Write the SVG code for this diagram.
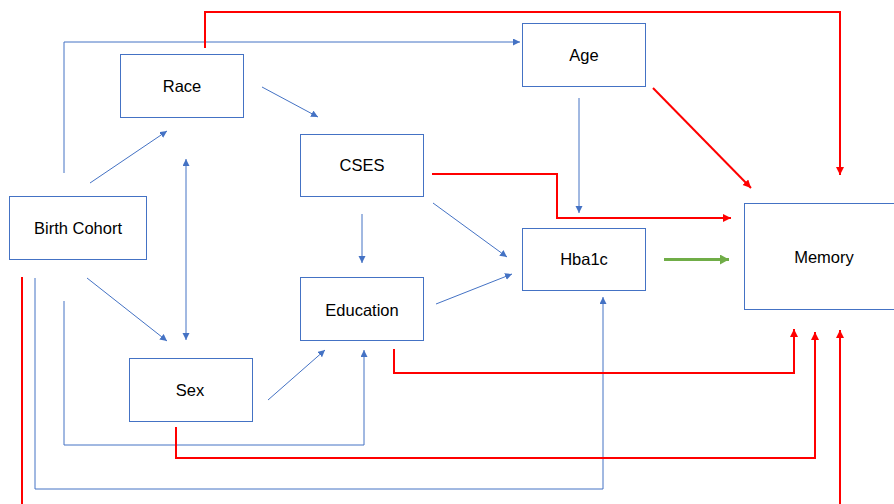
<svg xmlns="http://www.w3.org/2000/svg" width="894" height="504" viewBox="0 0 894 504">
<style>
.box{fill:#fff;stroke:#4472C4;stroke-width:1}
.lbl{font-family:"Liberation Sans",Arial,sans-serif;font-size:16.5px;fill:#000;text-anchor:middle;dominant-baseline:central}
.b{fill:none;stroke:#4472C4;stroke-width:1}
.r{fill:none;stroke:#FF0000;stroke-width:2}
.g{fill:none;stroke:#70AD47;stroke-width:3}
</style>
<defs>
<marker id="ab" markerUnits="userSpaceOnUse" markerWidth="8" markerHeight="8" refX="7" refY="3.5" orient="auto-start-reverse"><path d="M0,0 L7,3.5 L0,7 Z" fill="#4472C4"/></marker>
<marker id="ar" markerUnits="userSpaceOnUse" markerWidth="9" markerHeight="9" refX="8" refY="4" orient="auto"><path d="M0,0 L8,4 L0,8 Z" fill="#FF0000"/></marker>
<marker id="ag" markerUnits="userSpaceOnUse" markerWidth="10" markerHeight="10" refX="9" refY="5" orient="auto"><path d="M0,0 L9,5 L0,10 Z" fill="#70AD47"/></marker>
</defs>
<rect width="894" height="504" fill="#fff"/>
<g id="connectors">
<path class="b" d="M64,173 V42 H520" marker-end="url(#ab)"/>
<path class="b" d="M90,183 L167,131" marker-end="url(#ab)"/>
<path class="b" d="M186,159 V340" marker-start="url(#ab)" marker-end="url(#ab)"/>
<path class="b" d="M262,87 L318,117" marker-end="url(#ab)"/>
<path class="b" d="M362,214 V263" marker-end="url(#ab)"/>
<path class="b" d="M433,203 L507,257" marker-end="url(#ab)"/>
<path class="b" d="M436,304 L512,274" marker-end="url(#ab)"/>
<path class="b" d="M87,278 L167,341" marker-end="url(#ab)"/>
<path class="b" d="M268,400 L325,350" marker-end="url(#ab)"/>
<path class="b" d="M64,301 V445 H364 V350" marker-end="url(#ab)"/>
<path class="b" d="M35,278 V489 H603 V297" marker-end="url(#ab)"/>
<path class="b" d="M579,98 V213" marker-end="url(#ab)"/>
<path class="g" d="M664,259.5 H729" marker-end="url(#ag)"/>
<path class="r" d="M205,48 V12 H840 V175" marker-end="url(#ar)"/>
<path class="r" d="M653,88 L751,188" marker-end="url(#ar)"/>
<path class="r" d="M432,174 H557 V218 H731" marker-end="url(#ar)"/>
<path class="r" d="M394,349 V373 H794 V329" marker-end="url(#ar)"/>
<path class="r" d="M176,427 V458 H815 V332" marker-end="url(#ar)"/>
<path class="r" d="M22,277 V512 H840 V330" marker-end="url(#ar)"/>
</g>
<g id="race"><rect class="box" x="120.5" y="54.5" width="123" height="63"/><text class="lbl" x="182" y="86">Race</text></g>
<g id="cses"><rect class="box" x="300.5" y="134.5" width="123" height="62"/><text class="lbl" x="362" y="165">CSES</text></g>
<g id="birth-cohort"><rect class="box" x="9.5" y="196.5" width="137" height="63"/><text class="lbl" x="78" y="228">Birth Cohort</text></g>
<g id="age"><rect class="box" x="522.5" y="23.5" width="123" height="63"/><text class="lbl" x="584" y="55">Age</text></g>
<g id="hba1c"><rect class="box" x="522.5" y="228.5" width="123" height="62"/><text class="lbl" x="584" y="259">Hba1c</text></g>
<g id="memory"><rect class="box" x="744.5" y="203.5" width="160" height="106"/><text class="lbl" x="824" y="257">Memory</text></g>
<g id="education"><rect class="box" x="300.5" y="277.5" width="123" height="63"/><text class="lbl" x="362" y="310">Education</text></g>
<g id="sex"><rect class="box" x="129.5" y="358.5" width="123" height="63"/><text class="lbl" x="190" y="390">Sex</text></g>
</svg>
